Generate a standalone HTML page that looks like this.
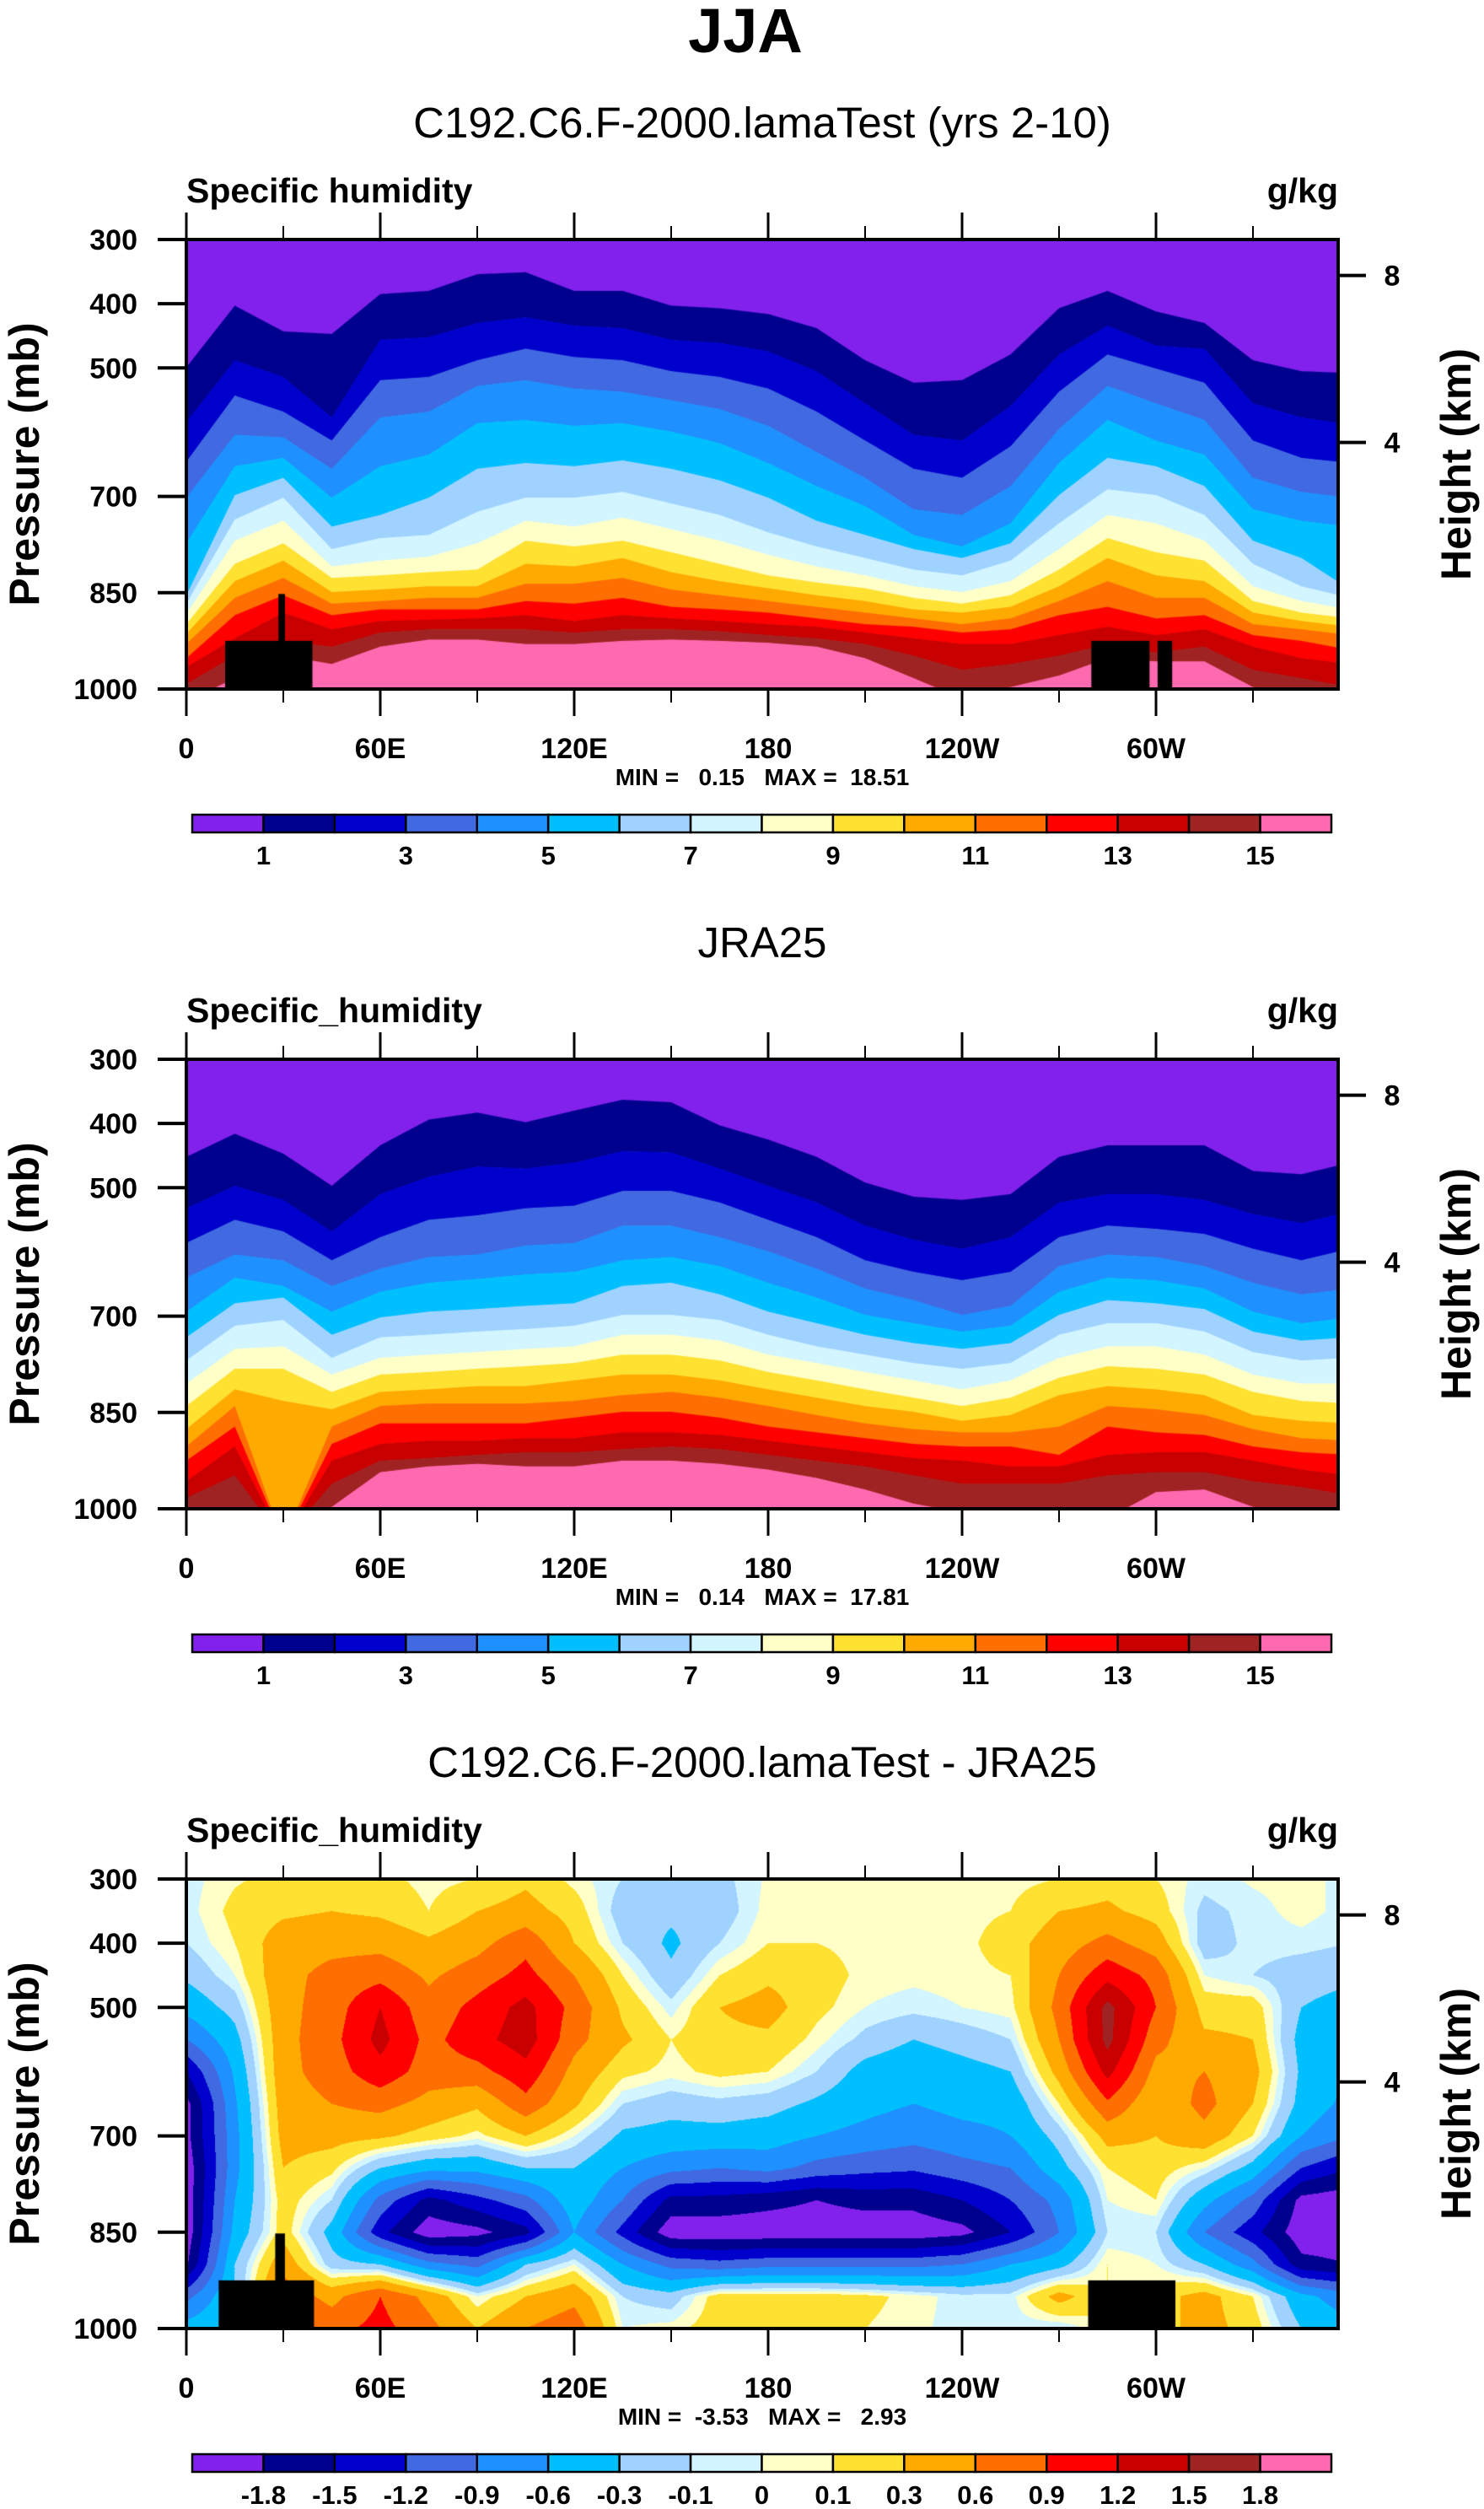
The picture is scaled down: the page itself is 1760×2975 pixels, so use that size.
<!DOCTYPE html>
<html><head><meta charset="utf-8">
<style>
html,body{margin:0;padding:0;background:#fff;}
#wrap{position:relative;width:1760px;height:2975px;overflow:hidden;background:#fff;}
canvas{position:absolute;}
svg{position:absolute;left:0;top:0;}
text{font-family:"Liberation Sans",Arial,sans-serif;}
</style></head>
<body>
<div id="wrap">
<canvas id="c0" width="1366" height="533" style="left:221px;top:284px"></canvas>
<canvas id="c1" width="1366" height="533" style="left:221px;top:1256px"></canvas>
<canvas id="c2" width="1366" height="533" style="left:221px;top:2228px"></canvas>
<svg id="svg" width="1760" height="2975" xmlns="http://www.w3.org/2000/svg"></svg>
</div>
<script>
// ---------- data ----------
const lonCols = [0,15,30,45,60,75,90,105,120,135,150,165,180,195,210,225,240,255,270,285,300,315,330,345,360];
const humLevels = [1,2,3,4,5,6,7,8,9,10,11,12,13,14,15];
const diffLevels = [-1.8,-1.5,-1.2,-0.9,-0.6,-0.3,-0.1,0,0.1,0.3,0.6,0.9,1.2,1.5,1.8];
const diffPres = [300,350,400,450,500,550,600,650,700,750,800,850,900,950,1000];
const lonTickVals = [0,60,120,180,240,300];
const lonTickLabels = ['0','60E','120E','180','120W','60W'];
const presTickVals = [300,400,500,700,850,1000];
const kmTickVals = [8,4];
const kmTickPres = [356,616];
const humBarLabels = ['1','3','5','7','9','11','13','15'];
const diffBarLabels = ['-1.8','-1.5','-1.2','-0.9','-0.6','-0.3','-0.1','0','0.1','0.3','0.6','0.9','1.2','1.5','1.8'];
const colors = ['#8220ec','#00008f','#0000cd','#4169e1','#1e90ff','#00bfff','#a0d2ff','#d2f5ff','#ffffc8','#ffe132','#ffaa00','#ff6e00','#ff0000','#c80000','#a02323','#ff69b0'];

const modelCross = [
[499,584,646,702,773,854,867,883,899,914,930,952,966,992,1020],
[403,488,543,604,653,698,736,769,805,832,858,885,921,948,983],
[443,514,568,608,640,671,702,738,773,800,827,854,881,925,948],
[447,577,613,657,702,747,782,809,827,849,867,885,907,934,961],
[385,456,519,577,653,729,765,800,823,845,863,876,894,912,934],
[380,452,514,568,635,702,760,794,818,840,858,876,892,907,923],
[354,430,488,528,586,657,724,773,814,840,858,876,890,907,923],
[351,421,470,519,581,648,702,738,769,805,836,863,885,907,930],
[380,434,483,532,590,653,702,747,778,809,836,867,894,912,930],
[380,438,488,537,586,644,693,733,769,796,827,858,885,907,925],
[403,456,505,550,599,657,711,751,787,818,845,872,890,907,923],
[407,461,514,564,617,675,729,769,805,832,854,876,894,910,925],
[416,474,532,590,648,702,756,791,823,843,863,881,899,916,928],
[438,505,568,631,684,738,778,809,834,854,872,890,903,921,934],
[488,555,613,671,715,760,796,823,843,863,881,899,912,930,952],
[523,604,657,720,760,782,814,840,858,876,890,903,921,948,983],
[519,613,671,729,778,796,823,849,867,881,899,912,930,970,1015],
[479,559,622,684,742,773,800,832,854,872,890,907,930,961,997],
[407,479,537,595,648,698,742,782,814,840,863,885,916,948,979],
[380,434,479,528,581,640,689,729,765,796,832,872,903,930,952],
[412,465,501,555,613,653,698,742,787,823,858,890,916,943,957],
[430,470,523,581,635,684,729,769,800,832,858,885,907,934,957],
[488,555,613,671,720,769,805,840,863,881,899,916,934,970,997],
[505,577,640,693,738,796,840,863,881,894,907,925,952,983,1020],
[508,588,648,702,747,845,858,876,890,903,916,939,961,997,1020]
];
const obsCross = [
[452,532,586,640,693,733,769,805,840,876,903,925,957,983,1020],
[416,497,550,604,640,680,715,751,782,814,840,872,903,948,1015],
[447,519,568,613,653,671,706,747,782,832,1050,1050,1050,1050,1050],
[497,568,613,653,693,729,765,791,818,845,872,899,925,961,997],
[434,510,577,626,662,702,733,765,791,818,840,867,899,925,943],
[394,483,550,608,648,693,729,760,787,814,836,867,894,921,934],
[383,467,543,604,642,689,724,756,782,809,836,867,894,916,930],
[398,470,532,590,635,684,720,751,778,809,836,867,890,912,934],
[380,461,528,586,631,680,715,747,773,800,832,858,890,912,934],
[363,443,505,559,613,653,698,729,760,791,823,849,881,907,925],
[367,445,505,559,608,648,698,729,760,791,818,849,881,903,925],
[403,470,523,577,622,666,706,738,769,800,827,858,885,907,930],
[425,497,550,599,648,693,729,760,787,814,840,872,894,916,939],
[452,523,577,626,671,711,747,773,800,827,854,881,903,925,952],
[492,559,613,657,698,729,760,787,814,840,867,890,912,934,970],
[514,581,631,675,711,742,773,800,827,849,876,899,921,948,992],
[519,595,644,698,724,751,782,814,840,863,881,903,925,961,1006],
[510,577,631,684,715,742,773,800,827,854,881,903,934,961,1006],
[452,523,577,622,662,698,729,765,796,823,872,916,934,961,1015],
[434,510,559,604,640,675,711,747,778,809,840,872,916,948,1015],
[434,510,564,608,644,680,711,747,782,814,845,881,912,943,974],
[434,519,572,622,657,689,724,760,791,823,854,885,912,943,970],
[474,541,595,648,693,724,756,791,818,854,876,903,925,957,997],
[479,555,613,666,711,738,769,805,832,863,890,912,939,966,1015],
[461,537,595,657,702,733,765,805,836,867,894,916,948,979,1020]
];
const diffGrid = [
[-0.05,-0.05,-0.1,-0.25,-0.5,-0.9,-1.5,-1.9,-1.9,-2.0,-2.0,-2.0,-1.85,-1.0,-0.45],
[0.08,0.15,0.1,0.0,-0.2,-0.4,-0.55,-0.65,-0.7,-0.7,-0.6,-0.5,-0.3,-0.3,-0.3],
[0.15,0.25,0.45,0.5,0.5,0.5,0.5,0.45,0.4,0.3,0.2,0.2,0.5,0.8,1.0],
[0.2,0.3,0.5,0.7,0.75,0.8,0.75,0.6,0.4,0.15,-0.1,-0.4,-0.2,0.5,0.8],
[0.15,0.25,0.5,0.8,1.2,1.3,1.1,0.7,0.35,-0.3,-1.0,-1.4,-0.3,0.9,1.0],
[0.05,0.1,0.35,0.55,0.7,0.8,0.75,0.5,0.2,-0.5,-1.6,-2.0,-0.8,0.5,0.7],
[0.1,0.3,0.5,0.75,1.0,1.1,0.8,0.35,0.05,-0.5,-1.3,-1.9,-1.0,0.0,0.3],
[0.25,0.4,0.8,1.0,1.3,1.35,1.1,0.8,0.3,-0.3,-1.0,-1.6,-0.3,0.3,0.6],
[0.05,0.2,0.3,0.6,0.8,0.7,0.5,0.35,0.0,-0.3,-0.4,-0.6,0.0,0.5,0.8],
[-0.1,-0.2,-0.1,0.1,0.25,0.35,0.15,-0.1,-0.35,-0.6,-0.9,-1.3,-0.6,-0.1,0.0],
[-0.2,-0.25,-0.35,-0.25,-0.05,0.1,0.05,-0.2,-0.4,-0.8,-1.6,-2.0,-1.0,-0.2,0.05],
[-0.15,-0.2,-0.1,0.1,0.3,0.25,0.15,-0.15,-0.4,-0.9,-1.6,-2.0,-1.1,0.2,0.2],
[0.02,0.05,0.1,0.25,0.4,0.25,0.1,-0.2,-0.45,-0.8,-1.7,-2.0,-1.0,0.2,0.2],
[0.03,0.05,0.1,0.2,0.15,0.05,-0.1,-0.35,-0.6,-1.0,-1.8,-2.0,-1.0,0.2,0.2],
[0.03,0.05,0.05,0.05,0.0,-0.15,-0.4,-0.5,-0.7,-1.1,-1.7,-2.0,-1.0,0.15,0.1],
[0.03,0.05,0.05,0.03,-0.05,-0.3,-0.5,-0.6,-0.8,-1.15,-1.7,-2.0,-1.0,0.05,0.03],
[0.03,0.05,0.05,0.05,0.0,-0.2,-0.4,-0.5,-0.7,-1.0,-1.5,-1.9,-0.9,-0.05,-0.05],
[0.05,0.1,0.2,0.1,0.05,-0.1,-0.3,-0.5,-0.6,-0.9,-1.2,-1.5,-0.6,-0.05,-0.05],
[0.1,0.3,0.45,0.6,0.7,0.6,0.4,0.1,-0.2,-0.4,-0.8,-0.9,-0.4,0.4,-0.1],
[0.2,0.35,0.7,1.1,1.6,1.6,1.3,0.85,0.4,0.1,0.0,-0.1,0.1,0.1,0.1],
[0.1,0.2,0.45,0.8,0.9,0.7,0.5,0.35,0.3,0.2,0.1,-0.1,0.0,0.2,0.2],
[-0.05,-0.15,-0.2,0.0,0.2,0.35,0.6,0.7,0.5,0.0,-0.5,-0.9,-0.3,0.4,0.4],
[0.02,-0.05,-0.05,-0.1,0.2,0.3,0.4,0.3,0.1,-0.4,-1.0,-1.4,-0.8,0.1,0.2],
[0.05,0.05,-0.05,-0.2,-0.3,-0.4,-0.35,-0.4,-0.6,-1.2,-1.9,-2.0,-1.7,-0.5,-0.3],
[-0.05,-0.05,-0.1,-0.25,-0.4,-0.5,-0.6,-0.7,-0.9,-1.5,-2.0,-2.0,-1.8,-0.8,-0.5]
];
const topoModel = [[12,39,925],[28.5,30.5,852],[280,298,925],[300.5,305,925]];
const topoDiff = [[10,39.5,925],[27.5,30.5,852],[279,306,925]];

// ---------- layout ----------
const X0 = 221, W = 1366, H = 533;
const PX_PER_DEG = 230/60;
const tops = [284,1256,2228];
function xOf(lon){ return X0 + lon*PX_PER_DEG; }
function yOf(top,p){ return top + (p-300)/700*H; }

function drawHum(cid, cross, topo){
  const ctx = document.getElementById(cid).getContext('2d');
  for(let px=0; px<W; px++){
    const lon = (px+0.5)/PX_PER_DEG;
    let i = Math.min(Math.floor(lon/15), lonCols.length-2);
    const t = (lon - lonCols[i])/15;
    const b = humLevels.map((_,k)=>cross[i][k]*(1-t)+cross[i+1][k]*t);
    let prevY = 0;
    for(let k=0;k<=humLevels.length;k++){
      const yEnd = k<humLevels.length ? Math.max(0,Math.min(H,(b[k]-300)/700*H)) : H;
      if(yEnd>prevY){ ctx.fillStyle = colors[k]; ctx.fillRect(px,prevY,1,yEnd-prevY+0.6); prevY=yEnd; }
    }
  }
  drawTopo(ctx, topo);
}
function hexRgb(h){ return [parseInt(h.slice(1,3),16),parseInt(h.slice(3,5),16),parseInt(h.slice(5,7),16)]; }
function drawDiff(cid, grid, topo){
  const ctx = document.getElementById(cid).getContext('2d');
  const img = ctx.createImageData(W,H);
  const rgb = colors.map(hexRgb);
  for(let px=0;px<W;px++){
    const lon=(px+0.5)/PX_PER_DEG;
    let i=Math.min(Math.floor(lon/15),lonCols.length-2);
    const t=(lon-lonCols[i])/15;
    for(let py=0;py<H;py++){
      const p=300+(py+0.5)/H*700;
      let j=Math.min(Math.floor((p-300)/50),diffPres.length-2);
      const u=(p-diffPres[j])/50;
      const v=(grid[i][j]*(1-u)+grid[i][j+1]*u)*(1-t)+(grid[i+1][j]*(1-u)+grid[i+1][j+1]*u)*t;
      let idx=0; for(const L of diffLevels){ if(v>=L) idx++; }
      const c=rgb[idx]; const o=(py*W+px)*4;
      img.data[o]=c[0];img.data[o+1]=c[1];img.data[o+2]=c[2];img.data[o+3]=255;
    }
  }
  ctx.putImageData(img,0,0);
  drawTopo(ctx, topo);
}
function drawTopo(ctx, topo){
  ctx.fillStyle='#000';
  for(const r of topo){
    const x1=r[0]*PX_PER_DEG, x2=r[1]*PX_PER_DEG, y=(r[2]-300)/700*H;
    ctx.fillRect(x1,y,x2-x1,H-y);
  }
}
drawHum('c0', modelCross, topoModel);
drawHum('c1', obsCross, []);
drawDiff('c2', diffGrid, topoDiff);

const NS='http://www.w3.org/2000/svg';
const svg=document.getElementById('svg');
function el(tag, attrs, parent){
  const e=document.createElementNS(NS,tag);
  for(const k in attrs) e.setAttribute(k,attrs[k]);
  (parent||svg).appendChild(e); return e;
}
function txt(s, attrs, parent){ const e=el('text',attrs,parent); e.textContent=s; return e; }

const t0=txt('JJA',{x:884,y:62,'text-anchor':'middle','font-size':74,'font-weight':'bold'});



const subtitles=['C192.C6.F-2000.lamaTest (yrs 2-10)','JRA25','C192.C6.F-2000.lamaTest - JRA25'];
const leftStr=['Specific humidity','Specific_humidity','Specific_humidity'];
const minmax=['MIN =   0.15   MAX =  18.51','MIN =   0.14   MAX =  17.81','MIN =  -3.53   MAX =   2.93'];

tops.forEach((top,pi)=>{
  const g=el('g',{});
  
  
  const bottom=top+H, right=X0+W;
  const st=txt(subtitles[pi],{x:904,y:top-121,'text-anchor':'middle','font-size':51},g);
  
  
  const ls=txt(leftStr[pi],{x:X0,y:top-44,'font-size':41,'font-weight':'bold'},g);
  
  
  const us=txt('g/kg',{x:right,y:top-44,'text-anchor':'end','font-size':41,'font-weight':'bold'},g);
  
  
  const fr=el('rect',{x:X0,y:top,width:W,height:H,fill:'none',stroke:'#000','stroke-width':4},g);
  
  
  for(let lon=0;lon<=330;lon+=30){
    const major = lonTickVals.indexOf(lon)>=0;
    const x=xOf(lon), len=major?32:16;
    el('line',{x1:x,y1:top,x2:x,y2:top-len,stroke:'#000','stroke-width':major?3:2},g);
    el('line',{x1:x,y1:bottom,x2:x,y2:bottom+len,stroke:'#000','stroke-width':major?3:2},g);
  }
  lonTickLabels.forEach((lab,k)=>{
    const t=txt(lab,{x:xOf(lonTickVals[k]),y:bottom+82,'text-anchor':'middle','font-size':34,'font-weight':'bold'},g);
    
    
  });
  presTickVals.forEach(p=>{
    const y=yOf(top,p);
    el('line',{x1:X0,y1:y,x2:X0-34,y2:y,stroke:'#000','stroke-width':4},g);
    const t=txt(String(p),{x:163,y:y+12,'text-anchor':'end','font-size':34,'font-weight':'bold'},g);
    
    
  });
  kmTickVals.forEach((km,k)=>{
    const y=yOf(top,kmTickPres[k]);
    el('line',{x1:right,y1:y,x2:right+33,y2:y,stroke:'#000','stroke-width':4},g);
    const t=txt(String(km),{x:1651,y:y+12,'text-anchor':'middle','font-size':34,'font-weight':'bold'},g);
    
    
  });
  const cy=top+H/2;
  const ya=txt('Pressure (mb)',{x:0,y:0,'text-anchor':'middle','font-size':50,'font-weight':'bold',transform:`translate(46,${cy}) rotate(-90)`},g);
  
  
  const yb=txt('Height (km)',{x:0,y:0,'text-anchor':'middle','font-size':50,'font-weight':'bold',transform:`translate(1744,${cy}) rotate(-90)`},g);
  
  
  const mm=txt(minmax[pi],{x:904,y:bottom+114,'text-anchor':'middle','font-size':28,'font-weight':'bold','xml:space':'preserve',style:'white-space:pre'},g);
  
  
  const cb=el('g',{},g);
  
  
  const cbx=228, cbw=1351, cby=bottom+149, cbh=21, bw=cbw/16;
  colors.forEach((c,k)=>{
    const r=el('rect',{x:cbx+k*bw,y:cby,width:bw,height:cbh,fill:c,stroke:'#000','stroke-width':2.5},cb);
    
    
  });
  if(pi<2){
    humBarLabels.forEach((lab,k)=>{
      const t=txt(lab,{x:cbx+(2*k+1)*bw,y:cby+59,'text-anchor':'middle','font-size':31,'font-weight':'bold'},cb);
      
      
    });
  } else {
    diffBarLabels.forEach((lab,k)=>{
      const t=txt(lab,{x:cbx+(k+1)*bw,y:cby+59,'text-anchor':'middle','font-size':31,'font-weight':'bold'},cb);
      
      
    });
  }
});
</script>
</body></html>
